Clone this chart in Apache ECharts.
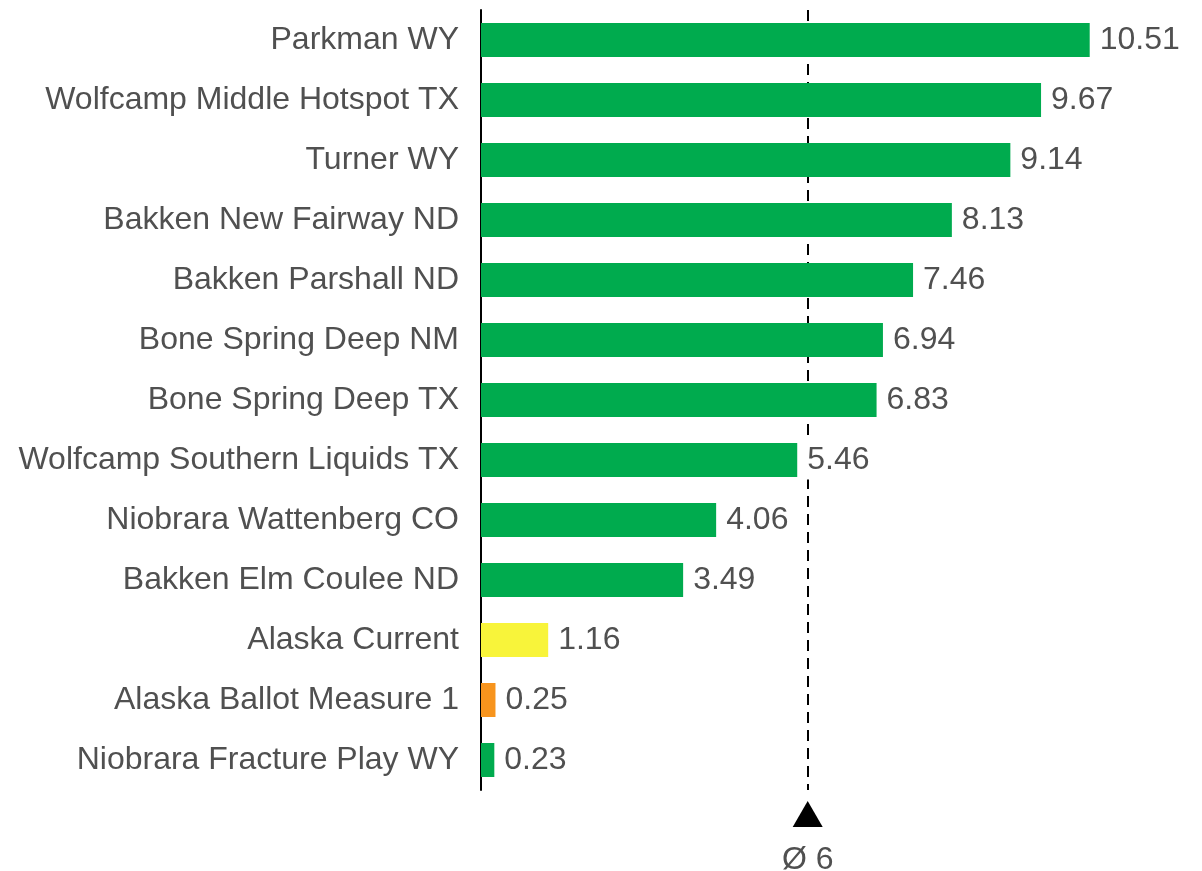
<!DOCTYPE html>
<html><head><meta charset="utf-8">
<script src="https://cdn.jsdelivr.net/npm/echarts@6/dist/echarts.min.js"></script>
<style>html,body{margin:0;padding:0;background:#fff}#c{width:1202px;height:871px}</style>
</head><body><div id="c"></div>
<script>
const categories = ["Parkman WY","Wolfcamp Middle Hotspot TX","Turner WY","Bakken New Fairway ND","Bakken Parshall ND","Bone Spring Deep NM","Bone Spring Deep TX","Wolfcamp Southern Liquids TX","Niobrara Wattenberg CO","Bakken Elm Coulee ND","Alaska Current","Alaska Ballot Measure 1","Niobrara Fracture Play WY"];
const values = [10.51,9.67,9.14,8.13,7.46,6.94,6.83,5.46,4.06,3.49,1.16,0.25,0.23];
const colorKeys = ["g","g","g","g","g","g","g","g","g","g","y","o","g"];
const palette = {g:"#00AB4E", y:"#F8F43A", o:"#F7941D"};
const avgLabel = "Ø 6";
const avg = values.reduce((a,b)=>a+b,0)/values.length;
const font = "'Liberation Sans', Arial, sans-serif";
const textColor = "#505050";

const chart = echarts.init(document.getElementById('c'));
chart.setOption({
  animation:false,
  grid:{left:481, right:26, top:10, bottom:81},
  xAxis:{type:'value', min:0, max:12, show:false},
  yAxis:{type:'category', data:categories, inverse:true,
    axisLine:{show:true, lineStyle:{color:'#000', width:2}},
    axisTick:{show:false},
    axisLabel:{color:textColor, fontFamily:font, fontSize:32, margin:22, padding:[7,0,0,0]}},
  series:[{type:'bar', barWidth:34,
    data: values.map((v,i)=>({value:v, itemStyle:{color:palette[colorKeys[i]]}})),
    label:{show:true, position:'right', distance:8, color:textColor, fontFamily:font, fontSize:32,
      backgroundColor:'#fff', padding:[7,2,0,2],
      formatter:p=>p.value.toFixed(2)},
    markLine:{silent:true, symbol:['none','none'], label:{show:false}, z:1,
      lineStyle:{color:'#000', type:[11,7], width:2},
      data:[{xAxis:avg}]}
  }]
});
const px = chart.convertToPixel({xAxisIndex:0}, avg);
chart.setOption({graphic:[
  {type:'polygon', shape:{points:[[px,801],[px-15,827],[px+15,827]]}, style:{fill:'#000'}},
  {type:'text', x:px, y:860, style:{text:avgLabel, fill:textColor, font:"32px "+font, align:'center', verticalAlign:'middle'}}
]});
</script></body></html>
